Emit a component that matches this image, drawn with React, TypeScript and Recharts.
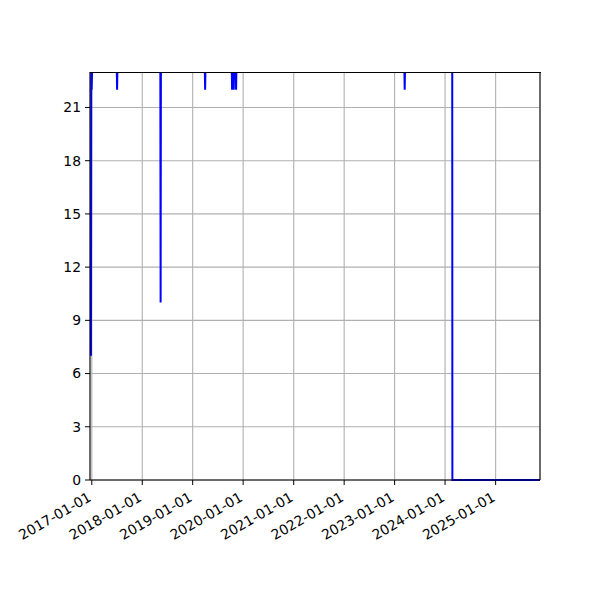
import { LineChart, Line, XAxis, YAxis, CartesianGrid, ReferenceLine } from "recharts";

// readings: the series sits at 23 except for short dips
const DATES = [
  "2016-12-26", "2016-12-28", "2016-12-31", "2017-01-03",
  "2017-07-01", "2017-07-03", "2017-07-05",
  "2018-05-12", "2018-05-14", "2018-05-16",
  "2019-03-30", "2019-04-01", "2019-04-03",
  "2019-10-11", "2019-10-13", "2019-10-15",
  "2019-10-23", "2019-10-25", "2019-10-27",
  "2019-11-09", "2019-11-11", "2019-11-13",
  "2023-03-13", "2023-03-15", "2023-03-17",
  "2024-02-22", "2024-02-23", "2025-11-18",
];
const VALUES = [
  7, 23, 22, 23,
  23, 22, 23,
  23, 10, 23,
  23, 22, 23,
  23, 22, 23,
  23, 22, 23,
  23, 22, 23,
  23, 22, 23,
  23, 0, 0,
];
const YEAR_TICKS = [
  "2017-01-01", "2018-01-01", "2019-01-01", "2020-01-01", "2021-01-01",
  "2022-01-01", "2023-01-01", "2024-01-01", "2025-01-01",
];
const Y_TICKS = [0, 3, 6, 9, 12, 15, 18, 21];
const X_START = "2016-12-19";
const X_END = "2025-11-18";
const Y_MAX = 23;

const toTime = (s: string) => Date.parse(s + "T00:00:00Z");
const data = DATES.map((d, i) => ({ t: toTime(d), value: VALUES[i] }));
const xTicks = YEAR_TICKS.map(toTime);
const xEnd = toTime(X_END);

const FONT = "DejaVu Sans";

function DateTick(props: any) {
  const { x, y, payload } = props;
  const label = new Date(payload.value).toISOString().slice(0, 10);
  const ax = x + 0.5;
  const ay = y + 15;
  return (
    <text
      x={ax}
      y={ay}
      transform={`rotate(-30 ${ax} ${ay})`}
      textAnchor="end"
      fill="#000"
      fontSize={13.9}
      fontFamily={FONT}
    >
      {label}
    </text>
  );
}

export default function App() {
  return (
    <div style={{ position: "absolute", left: 0, top: 0, background: "#fff" }}>
      <LineChart
        width={600}
        height={600}
        data={data}
        margin={{ top: 72, right: 60, left: 0, bottom: 0 }}
      >
        <CartesianGrid stroke="#b0b0b0" strokeWidth={1.1} />
        <XAxis
          dataKey="t"
          type="number"
          scale="time"
          domain={[toTime(X_START), xEnd]}
          ticks={xTicks}
          height={120}
          tickSize={5}
          tickMargin={0}
          interval={0}
          stroke="#000"
          tickLine={{ stroke: "#000" }}
          tick={<DateTick />}
        />
        <YAxis
          type="number"
          domain={[0, Y_MAX]}
          ticks={Y_TICKS}
          width={90}
          tickSize={5}
          tickMargin={4}
          interval={0}
          stroke="#000"
          tick={{ fill: "#000", fontSize: 13.9, fontFamily: FONT }}
        />
        <Line
          dataKey="value"
          type="linear"
          stroke="#0000ff"
          strokeWidth={2}
          dot={false}
          isAnimationActive={false}
        />
        <ReferenceLine x={xEnd} stroke="#000" strokeWidth={1} />
      </LineChart>
      {/* top spine drawn over the series, as in the source */}
      <div
        style={{
          position: "absolute",
          left: 90,
          top: 71,
          width: 450,
          height: 2,
          background: "#fff",
        }}
      />
      <div
        style={{
          position: "absolute",
          left: 90,
          top: 71.5,
          width: 450.5,
          height: 1.1,
          background: "#000",
        }}
      />
    </div>
  );
}
